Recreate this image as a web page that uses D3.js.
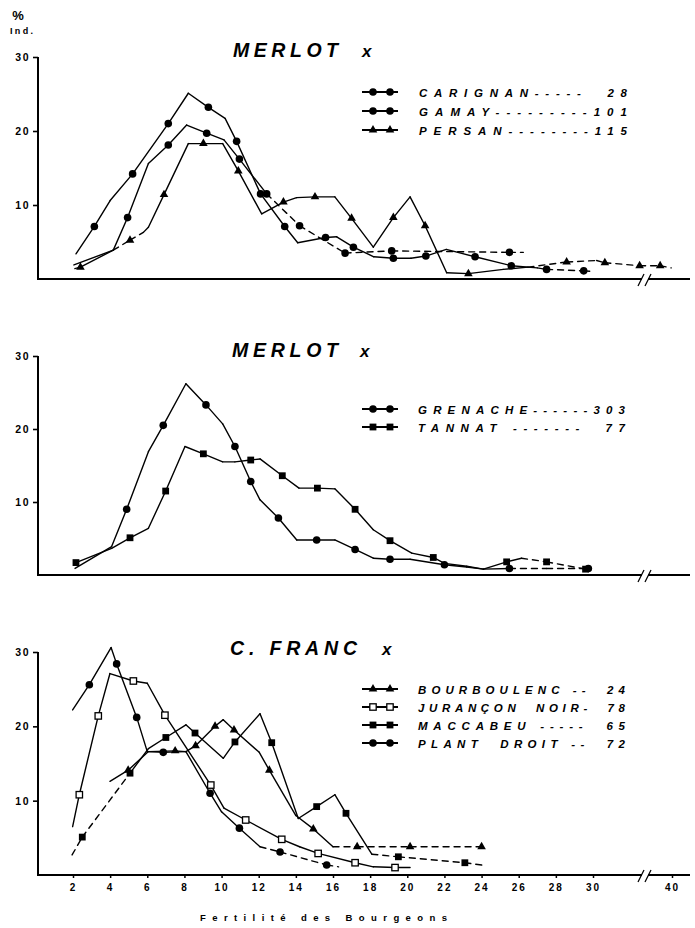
<!DOCTYPE html>
<html><head><meta charset="utf-8">
<script src="https://cdn.jsdelivr.net/npm/d3@7"></script>
<style>
body{margin:0;background:#fff}
svg{display:block;background:#fff}
text{font-family:"Liberation Sans",Arial,sans-serif;fill:#000}
</style></head><body>
<svg id="c" width="695" height="928"></svg>
<script>
// ---------- DATA ----------
const xTickValues = [2,4,6,8,10,12,14,16,18,20,22,24,26,28,30,40];
const yTickValues = [10,20,30];
const xAxisTitle = "Fertilité des Bourgeons";
const yUnitTop = "%";
const yUnitBottom = "Ind.";

const panelTitles = ["MERLOT", "MERLOT", "C. FRANC"];

// Panel 1 : MERLOT x ...
const gamayX = [2.16,3.15,4.0,5.21,7.13,8.21,9.29,10.19,10.81,12.1,13.4,14.1,15.6,16.2,17.1,18.2,19.25,20.2,21.0,22.1,23.65,25.6,27.0,27.5,29.5,30.1];
const gamayY = [3.4,7.1,10.6,14.2,21.0,25.1,23.2,21.7,18.6,11.5,7.1,4.9,5.6,5.7,4.3,3.0,2.8,2.8,3.1,4.0,3.0,1.8,1.5,1.3,1.1,1.0];
const gamayMarks = [1,3,4,6,8,9,10,12,14,16,18,20,21,23,24];
const gamayDashed = [22,23,24];

const carignanX = [2.05,4.17,4.94,6.06,7.13,8.12,9.2,10.13,10.96,12.43,14.2,16.65,19.16,25.5,26.25];
const carignanY = [1.9,3.9,8.3,15.6,18.1,20.8,19.7,18.8,16.2,11.5,7.2,3.5,3.8,3.6,3.6];
const carignanMarks = [2,4,6,8,9,10,11,12,13];
const carignanDashed = [9,10,11,12,13];

const persanX = [2.1,2.4,4.17,5.07,5.79,6.06,6.9,8.21,9.02,10.06,10.9,12.16,13.33,14.04,15.03,16.1,17.0,18.17,19.25,20.15,20.96,22.12,23.29,25.17,26.5,28.58,30.46,31.5,35.9,38.5,39.9];
const persanY = [1.4,1.6,3.9,5.25,6.3,7.0,11.4,18.3,18.3,18.3,14.6,8.8,10.4,11.0,11.1,11.1,8.2,4.3,8.3,11.1,7.2,0.85,0.72,1.3,1.6,2.3,2.5,2.2,1.8,1.8,1.5];
const persanMarks = [1,3,6,8,10,12,14,16,18,20,22,25,27,28,29];
const persanDashed = [2,3,24,25,26,27,28,29];

// Panel 2 : MERLOT x ...
const grenacheX = [2.11,4.08,4.89,6.06,6.86,8.08,9.16,10.06,10.72,11.57,12.07,13.06,14.05,15.12,16.1,17.19,18.17,19.07,20.15,22.0,23.2,24.1,25.5,27.5,29.75];
const grenacheY = [0.9,3.9,9.0,16.9,20.5,26.2,23.3,20.7,17.6,12.8,10.3,7.8,4.8,4.8,4.8,3.5,2.3,2.15,2.15,1.4,1.1,0.8,0.9,0.9,0.9];
const grenacheMarks = [2,4,6,8,9,11,13,15,17,19,22,24];
const grenacheDashed = [22,23];

const tannatX = [2.16,4.08,5.07,6.06,6.99,8.03,9.02,10.06,10.72,11.57,12.07,13.27,14.17,15.16,16.1,17.19,18.17,19.07,20.24,21.4,22.0,23.2,24.1,25.35,26.15,27.5,29.6];
const tannatY = [1.7,3.65,5.1,6.4,11.5,17.6,16.6,15.5,15.5,15.75,15.9,13.6,11.9,11.9,11.8,9.0,6.2,4.7,3.0,2.4,1.6,1.2,0.8,1.8,2.3,1.8,0.8];
const tannatMarks = [0,2,4,6,9,11,13,15,17,19,23,25,26];
const tannatDashed = [24,25];

// Panel 3 : C. FRANC x ...
const bourboulencX = [3.99,4.97,6.06,7.5,8.08,8.6,9.65,10.09,10.67,12.03,12.57,14.0,14.94,16.0,17.3,20.15,24.0];
const bourboulencY = [12.6,14.1,16.6,16.7,16.6,17.4,20.0,20.9,19.5,16.5,14.1,8.0,6.2,3.8,3.8,3.8,3.8];
const bourboulencMarks = [1,3,5,6,8,10,12,14,15,16];
const bourboulencDashed = [13,14,15];

const juranconX = [1.98,2.34,3.36,3.99,5.25,6.0,6.95,9.42,10.13,11.3,13.24,14.2,15.2,17.19,18.17,19.34,20.15];
const juranconY = [6.5,10.8,21.4,27.1,26.1,25.8,21.5,12.1,9.0,7.4,4.8,3.8,2.9,1.65,1.1,1.0,1.0];
const juranconMarks = [1,2,4,6,7,9,10,12,13,15];
const juranconDashed = [];

const maccabeuX = [1.95,2.5,5.07,6.06,7.0,8.08,8.57,10.09,10.72,12.07,12.7,14.13,15.12,16.1,16.7,18.09,19.52,23.1,24.27];
const maccabeuY = [2.7,5.1,13.7,17.0,18.5,20.2,19.1,15.7,17.9,21.7,17.8,7.6,9.2,10.8,8.3,2.8,2.45,1.65,1.25];
const maccabeuMarks = [1,2,4,6,8,10,12,14,16,17];
const maccabeuDashed = [0,1,15,16,17];

const plantDroitX = [1.98,2.88,4.05,4.35,5.43,6.0,6.86,8.08,9.38,10.0,10.96,12.07,13.15,15.66,16.3];
const plantDroitY = [22.2,25.6,30.6,28.4,21.2,16.6,16.5,16.6,11.0,8.5,6.3,3.8,3.1,1.35,1.1];
const plantDroitMarks = [1,3,4,6,8,10,12,13];
const plantDroitDashed = [11,12,13];

// legend labels (name + count, as printed)
const legend1 = ["CARIGNAN-----  28","GAMAY---------101","PERSAN--------115"];
const legend2 = ["GRENACHE------303","TANNAT -------  77"];
const legend3 = ["BOURBOULENC --  24","JURANÇON  NOIR-  78","MACCABEU -----  65","PLANT  DROIT --  72"];

// ---------- BUILD ----------
const mk = (X,Y,marks,dashed,shape)=>({pts:X.map((x,i)=>[x,Y[i]]),marks,dashed,shape});

const panels = [
  {title:panelTitles[0], y0:279, y30:57, titleX:233, titleW:105, xX:362, titleY:57,
   legendRows:[92,111,130], legendX0:419, legendX1:627,
   labels:legend1,
   series:[mk(carignanX,carignanY,carignanMarks,carignanDashed,"dot"),
           mk(gamayX,gamayY,gamayMarks,gamayDashed,"dot"),
           mk(persanX,persanY,persanMarks,persanDashed,"tri")]},
  {title:panelTitles[1], y0:575, y30:356, titleX:232, titleW:106, xX:360, titleY:357,
   legendRows:[409,427], legendX0:418, legendX1:625,
   labels:legend2,
   series:[mk(grenacheX,grenacheY,grenacheMarks,grenacheDashed,"dot"),
           mk(tannatX,tannatY,tannatMarks,tannatDashed,"sq")]},
  {title:panelTitles[2], y0:875, y30:652, titleX:230, titleW:127, xX:382, titleY:655,
   legendRows:[689,707,725,743], legendX0:418, legendX1:625,
   labels:legend3,
   series:[mk(bourboulencX,bourboulencY,bourboulencMarks,bourboulencDashed,"tri"),
           mk(juranconX,juranconY,juranconMarks,juranconDashed,"osq"),
           mk(maccabeuX,maccabeuY,maccabeuMarks,maccabeuDashed,"sq"),
           mk(plantDroitX,plantDroitY,plantDroitMarks,plantDroitDashed,"dot")],
   xLabels:true}
];

const svg = d3.select("#c");
const axisX0 = 38, axisX1 = 690;
const x = d3.scaleLinear().domain([2,30,40]).range([73,593,672]);

function drawMarker(g, shape, cx, cy, scale=1){
  if(shape==="dot"){
    g.append("circle").attr("cx",cx).attr("cy",cy).attr("r",3.8*scale).attr("fill","#000");
  } else if(shape==="tri"){
    g.append("path").attr("d",d3.symbol().type(d3.symbolTriangle).size(32*scale*scale)())
      .attr("transform",`translate(${cx},${cy})`).attr("fill","#000");
  } else if(shape==="sq"){
    const s=6.8*scale;
    g.append("rect").attr("x",cx-s/2).attr("y",cy-s/2).attr("width",s).attr("height",s).attr("fill","#000");
  } else if(shape==="osq"){
    const s=6.4*scale;
    g.append("rect").attr("x",cx-s/2).attr("y",cy-s/2).attr("width",s).attr("height",s)
      .attr("fill","#fff").attr("stroke","#000").attr("stroke-width",1.3);
  }
}

panels.forEach(p=>{
  const y = d3.scaleLinear().domain([0,30]).range([p.y0,p.y30]);
  const g = svg.append("g");

  // y axis
  const ya = g.append("g").attr("transform",`translate(${axisX0},0)`)
    .call(d3.axisLeft(y).tickValues(yTickValues).tickSize(5).tickPadding(3).tickFormat(d3.format("d")));
  ya.select(".domain").remove();
  ya.selectAll("line").attr("stroke","#000").attr("stroke-width",1.6);
  ya.selectAll("text").attr("font-size",10.5).attr("font-weight","bold").attr("letter-spacing","1.5px")
    .style("font-family","'Liberation Sans',Arial,sans-serif");
  g.append("line").attr("x1",axisX0).attr("x2",axisX0).attr("y1",y(0)).attr("y2",y(30))
    .attr("stroke","#000").attr("stroke-width",2);

  // x axis line with break
  g.append("line").attr("x1",axisX0-1).attr("x2",axisX1).attr("y1",y(0)).attr("y2",y(0))
    .attr("stroke","#000").attr("stroke-width",2);
  if(p.xLabels){
    const xa = g.append("g").attr("transform",`translate(0,${y(0)})`)
      .call(d3.axisBottom(x).tickValues(xTickValues).tickSize(3).tickPadding(6).tickFormat(d3.format("d")));
    xa.select(".domain").remove();
    xa.selectAll("line").attr("stroke","#000").attr("stroke-width",1.5);
    xa.selectAll("text").attr("font-size",10).attr("font-weight","bold").attr("letter-spacing","2px")
      .style("font-family","'Liberation Sans',Arial,sans-serif");
  }
  const by = y(0);
  g.append("rect").attr("x",642).attr("y",by-3).attr("width",6).attr("height",6).attr("fill","#fff");
  g.append("line").attr("x1",638).attr("y1",by+7).attr("x2",644).attr("y2",by-5).attr("stroke","#000").attr("stroke-width",1.3);
  g.append("line").attr("x1",645).attr("y1",by+7).attr("x2",651).attr("y2",by-5).attr("stroke","#000").attr("stroke-width",1.3);

  // series
  const line = d3.line().x(d=>x(d[0])).y(d=>y(d[1]));
  p.series.forEach(s=>{
    for(let i=0;i<s.pts.length-1;i++){
      const dashed = s.dashed.includes(i);
      g.append("path").attr("d",line([s.pts[i],s.pts[i+1]]))
        .attr("fill","none").attr("stroke","#000").attr("stroke-width",1.4)
        .attr("stroke-linecap","round")
        .attr("stroke-dasharray",dashed?"6,5":null);
    }
    s.marks.forEach(i=>drawMarker(g,s.shape,x(s.pts[i][0]),y(s.pts[i][1])));
  });

  // title
  g.append("text").attr("x",p.titleX).attr("y",p.titleY).text(p.title)
    .attr("font-size",19.5).attr("font-weight","bold").attr("font-style","italic")
    .attr("textLength",p.titleW).attr("lengthAdjust","spacing");
  g.append("text").attr("x",p.xX).attr("y",p.titleY).text("x")
    .attr("font-size",17).attr("font-weight","bold").attr("font-style","italic");

  // legend
  p.labels.forEach((lab,i)=>{
    const ry = p.legendRows[i];
    g.append("line").attr("x1",362).attr("x2",398).attr("y1",ry).attr("y2",ry)
      .attr("stroke","#000").attr("stroke-width",1.8);
    drawMarker(g,p.series[i].shape,373,ry,1.0);
    drawMarker(g,p.series[i].shape,390,ry,1.0);
    g.append("text").attr("x",p.legendX0).attr("y",ry+4.5).text(lab)
      .style("white-space","pre")
      .attr("font-size",11.5).attr("font-weight","bold").attr("font-style","italic")
      .attr("textLength",p.legendX1-p.legendX0).attr("lengthAdjust","spacing");
  });
});

// unit label
svg.append("text").attr("x",18).attr("y",20).attr("text-anchor","middle").text(yUnitTop)
  .attr("font-size",13).attr("font-weight","bold");
svg.append("text").attr("x",10).attr("y",34).text(yUnitBottom)
  .attr("font-size",9).attr("font-weight","bold").attr("textLength",23).attr("lengthAdjust","spacing");

// x axis title
svg.append("text").attr("x",200).attr("y",921).text(xAxisTitle)
  .attr("font-size",9.5).attr("font-weight","bold")
  .attr("textLength",247).attr("lengthAdjust","spacing");
</script>
</body></html>
